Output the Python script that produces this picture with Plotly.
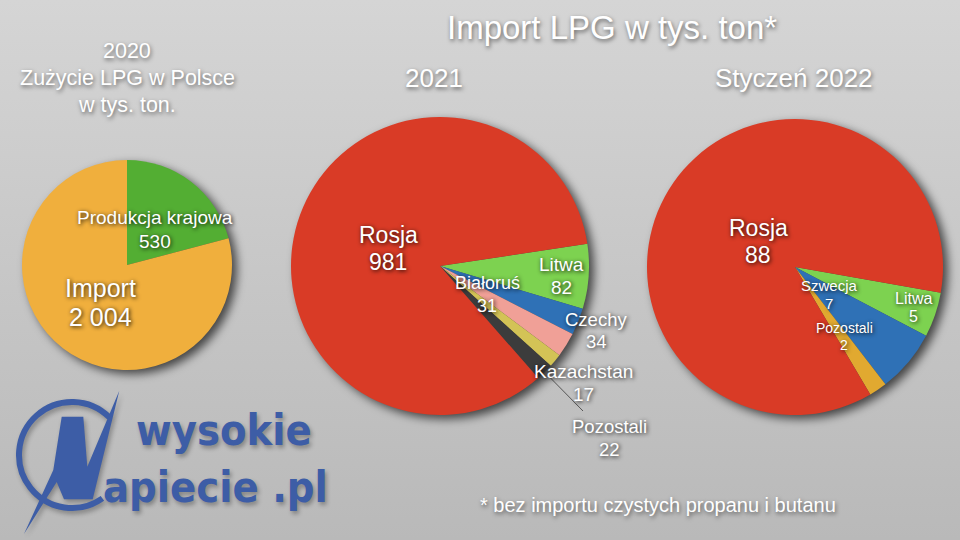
import base64, math
import plotly.graph_objects as go

# ---------------- DATA ----------------
title_main = "Import LPG w tys. ton*"
footnote = "* bez importu czystych propanu i butanu"

p1_title = ["2020", "Zużycie LPG w Polsce", "w tys. ton."]
p1_labels = ["Produkcja krajowa", "Import"]
p1_values = [530, 2004]

p2_title = "2021"
p2_labels = ["Litwa", "Czechy", "Białoruś", "Kazachstan", "Pozostali", "Rosja"]
p2_values = [82, 34, 31, 17, 22, 981]

p3_title = "Styczeń 2022"
p3_labels = ["Litwa", "Szwecja", "Pozostali", "Rosja"]
p3_values = [5, 7, 2, 88]

# ---------------- STYLE ----------------
W, H = 960, 540
RED = "#D93B26"
p1_colors = ["#53AE33", "#F0AF3D"]
p2_colors = ["#7DD250", "#2F71B6", "#F0A097", "#D3C356", "#3C3C3C", RED]
p3_colors = ["#7DD250", "#2F71B6", "#E1A930", RED]

# pie geometry in pixels: (cx, cy, r), start rotation (deg clockwise from 12 o'clock)
PIES = [(127, 265, 105, 0), (440, 266, 149, 81.4), (795, 267, 148, 100)]

FONT = "Liberation Sans, Arial, sans-serif"
SH_T = "1px 2px 4px rgba(0,0,0,0.55)"
SH_L = "1px 1px 4px rgba(0,0,0,0.9)"


def fx(x):
    return x / W


def fy(y):
    return 1 - y / H


def fmt(v):
    return f"{v:,}".replace(",", " ")


fig = go.Figure()
for (cx, cy, r, rot), labels, values, colors in zip(
    PIES, [p1_labels, p2_labels, p3_labels], [p1_values, p2_values, p3_values],
    [p1_colors, p2_colors, p3_colors]):
    fig.add_trace(go.Pie(
        labels=labels, values=values, sort=False, direction="clockwise",
        rotation=rot, marker=dict(colors=colors, line=dict(width=0)),
        textinfo="none", hoverinfo="skip", showlegend=False,
        domain=dict(x=[fx(cx - r), fx(cx + r)], y=[fy(cy + r), fy(cy - r)]),
    ))

ann = []


def text(x, y, s, size, shadow=SH_T, color="white", family=FONT, xanchor="center",
         weight="normal"):
    ann.append(dict(x=fx(x), y=fy(y), xref="paper", yref="paper", text=s,
                    showarrow=False, xanchor=xanchor, yanchor="middle",
                    font=dict(family=family, size=size, color=color, shadow=shadow,
                              weight=weight)))


# titles
text(612, 27, title_main, 33)
text(434, 78, p2_title, 26)
text(794, 78, p3_title, 26)
for s, y in zip(p1_title, [51, 78, 105]):
    text(127, y, s, 21.5)
text(658, 505, footnote, 20)

# slice labels: (x, y line1, y line2, size)
p1_pos = [(155, 218, 241, 19), (100, 288, 317, 25)]
p2_pos = [(561, 264, 287, 19), (596, 319, 341, 18.5), (487, 283, 306, 18),
          (583, 371, 394, 19), (609, 426, 449, 18.5), (388, 235, 262, 23)]
p3_pos = [(913, 298, 316, 16), (829, 285, 303, 15), (844, 328, 345, 14),
          (758, 228, 255, 23)]
for labels, values, pos in [(p1_labels, p1_values, p1_pos),
                            (p2_labels, p2_values, p2_pos),
                            (p3_labels, p3_values, p3_pos)]:
    for lab, v, (x, y1, y2, s) in zip(labels, values, pos):
        text(x, y1, lab, s, SH_L)
        text(x, y2, fmt(v), s, SH_L)

# leader line for "Pozostali" in 2021 pie (start from slice mid-angle)
cx, cy, r, rot = PIES[1]
idx = p2_labels.index("Pozostali")
tot = sum(p2_values)
a0 = rot + 360 * sum(p2_values[:idx]) / tot
am = math.radians(a0 + 180 * p2_values[idx] / tot)
sx, sy = cx + 1.05 * r * math.sin(am), cy - 1.05 * r * math.cos(am)
shapes = [dict(type="line", xref="paper", yref="paper", x0=fx(sx), y0=fy(sy),
               x1=fx(583), y1=fy(411), line=dict(color="#555555", width=1))]

# logo text
LOGO = "#3D5DA6"
LFONT = "DejaVu Sans Condensed, DejaVu Sans, sans-serif"
LSH = "2px 3px 4px rgba(0,0,0,0.3)"
text(134, 430, "wysokie", 43, LSH, LOGO, LFONT, "left", "bold")
text(101, 487, "apiecie .pl", 43, LSH, LOGO, LFONT, "left", "bold")

# ---------------- background (gradient, pie shadows, logo mark) ----------------
shadow_circles = "".join(
    f'<circle cx="{c[0]+5}" cy="{c[1]+4}" r="{c[2]}" fill="#000" fill-opacity="0.65" filter="url(#b)"/>'
    for c in PIES)
lc = (72, 455, 53)
a1, a2 = math.radians(-45), math.radians(55)
arc = (f'M {lc[0]+lc[2]*math.cos(a1):.1f} {lc[1]+lc[2]*math.sin(a1):.1f} '
       f'A {lc[2]} {lc[2]} 0 1 0 {lc[0]+lc[2]*math.cos(a2):.1f} {lc[1]+lc[2]*math.sin(a2):.1f}')
npoly = ("61.7,416.7 83.3,416.7 87.3,466.7 119.3,390.7 92.7,499.3 64,499.3 "
         "56.7,482 24,534 53.3,470")
logo_g = (f'<path d="{arc}" fill="none" stroke="{{c}}" stroke-width="6"/>'
          f'<polygon points="{npoly}" fill="{{c}}"/>')
svg = f'''<svg xmlns="http://www.w3.org/2000/svg" width="{W}" height="{H}" viewBox="0 0 {W} {H}" preserveAspectRatio="none">
<defs>
<linearGradient id="g" x1="0" y1="0" x2="0" y2="1"><stop offset="0" stop-color="#D5D5D5"/><stop offset="1" stop-color="#B9B9B9"/></linearGradient>
<filter id="b" x="-20%" y="-20%" width="140%" height="140%"><feGaussianBlur stdDeviation="5"/></filter>
<filter id="b2" x="-20%" y="-20%" width="140%" height="140%"><feGaussianBlur stdDeviation="2.5"/></filter>
</defs>
<rect width="{W}" height="{H}" fill="url(#g)"/>
{shadow_circles}
<g transform="translate(2,3)" opacity="0.3" filter="url(#b2)">{logo_g.replace("{c}", "#000")}</g>
<g>{logo_g.replace("{c}", LOGO)}</g>
</svg>'''
src = "data:image/svg+xml;base64," + base64.b64encode(svg.encode()).decode()

fig.update_layout(
    width=W, height=H, margin=dict(l=0, r=0, t=0, b=0),
    paper_bgcolor="#C8C8C8", plot_bgcolor="rgba(0,0,0,0)",
    annotations=ann, shapes=shapes,
    images=[dict(source=src, xref="paper", yref="paper", x=0, y=1, sizex=1, sizey=1,
                 sizing="stretch", xanchor="left", yanchor="top", layer="below")],
)
fig.write_html("out.html")
